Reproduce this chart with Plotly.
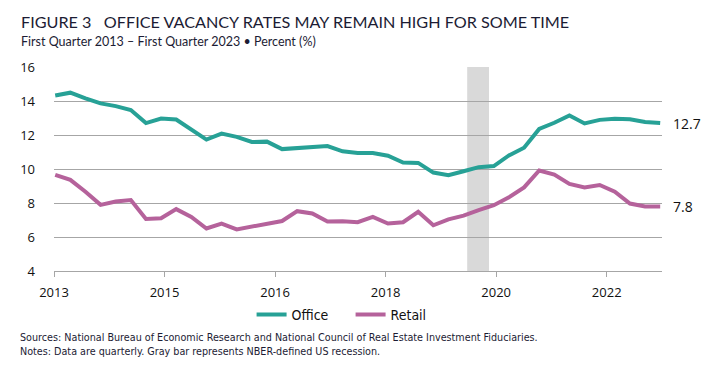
import plotly.graph_objects as go

# ---- data (quarterly, Q1 2013 .. Q1 2023) ----
start_year = 2013
office = [14.32, 14.49, 14.16, 13.86, 13.70, 13.47, 12.70, 12.97, 12.91, 12.34,
          11.73, 12.08, 11.89, 11.59, 11.61, 11.17, 11.23, 11.33, 11.35, 11.04,
          10.94, 10.94, 10.78, 10.38, 10.36, 9.79, 9.63, 9.87, 10.11, 10.17,
          10.80, 11.25, 12.36, 12.72, 13.15, 12.68, 12.89, 12.95, 12.93, 12.77,
          12.70]
retail = [9.65, 9.36, 8.66, 7.89, 8.09, 8.17, 7.06, 7.10, 7.64, 7.18,
          6.50, 6.79, 6.45, 6.63, 6.79, 6.94, 7.52, 7.38, 6.91, 6.93,
          6.87, 7.18, 6.79, 6.87, 7.48, 6.69, 7.04, 7.26, 7.58, 7.87,
          8.33, 8.92, 9.91, 9.67, 9.12, 8.92, 9.06, 8.66, 7.97, 7.79,
          7.79]
recession = [2019.81, 2020.17]  # NBER-defined recession (as plotted)
tick_labels = ["2013", "2015", "2016", "2018", "2020", "2022"]
y_ticks = [4, 6, 8, 10, 12, 14, 16]

x = [start_year + 0.25 * i for i in range(len(office))]

OFFICE_C = "#27A196"
RETAIL_C = "#B5629B"
TEXT_C = "#1c1c34"

OFF = 8  # page body margin
W, H = 726 - 2 * OFF, 376 - 2 * OFF
ML, MT = 47 - OFF, 67 - OFF
MR = (726 - OFF) - 662
MB = (376 - OFF) - 271
PW, PH = W - ML - MR, H - MT - MB

x_lo = x[0] - 0.02
x_hi = x[-1] + 0.03
n_int = 5.5
tick_pos = [x_lo + k * (x_hi - x_lo) / n_int for k in range(len(tick_labels))]


def px_x(p):
    return (p - OFF - ML) / PW


def px_y(p):
    return (H + OFF - MB - p) / PH


fig = go.Figure()
fig.add_trace(go.Scatter(x=x, y=office, mode="lines", name="Office",
                         line=dict(color=OFFICE_C, width=4)))
fig.add_trace(go.Scatter(x=x, y=retail, mode="lines", name="Retail",
                         line=dict(color=RETAIL_C, width=4)))

fig.add_shape(type="rect", xref="x", yref="paper", x0=recession[0], x1=recession[1],
              y0=0, y1=1, fillcolor="#D9D9D9", line=dict(width=0), layer="below")

# end labels
for vals in (office, retail):
    fig.add_annotation(x=x[-1], y=vals[-1], text=f"{vals[-1]:.1f}", showarrow=False,
                       xanchor="left", yanchor="middle", xshift=11,
                       font=dict(family="Open Sans", size=14, color="#111"))

fig.add_annotation(xref="paper", yref="paper", x=px_x(12), y=px_y(22),
                   xanchor="left", yanchor="middle", showarrow=False,
                   text="FIGURE 3&nbsp;&nbsp;&nbsp;OFFICE VACANCY RATES MAY REMAIN HIGH FOR SOME TIME",
                   font=dict(family="Lato", size=16.2, color=TEXT_C))
fig.add_annotation(xref="paper", yref="paper", x=px_x(12), y=px_y(41),
                   xanchor="left", yanchor="middle", showarrow=False,
                   text="First Quarter 2013 – First Quarter 2023 • Percent (%)",
                   font=dict(family="Lato", size=12.5, color=TEXT_C))
fig.add_annotation(xref="paper", yref="paper", x=px_x(11), y=px_y(337),
                   xanchor="left", yanchor="middle", showarrow=False,
                   text="Sources: National Bureau of Economic Research and National Council of Real Estate Investment Fiduciaries.",
                   font=dict(family="Liberation Sans Narrow, DejaVu Sans Condensed", size=10.7, color=TEXT_C))
fig.add_annotation(xref="paper", yref="paper", x=px_x(11), y=px_y(351),
                   xanchor="left", yanchor="middle", showarrow=False,
                   text="Notes: Data are quarterly. Gray bar represents NBER-defined US recession.",
                   font=dict(family="Liberation Sans Narrow, DejaVu Sans Condensed", size=10.7, color=TEXT_C))

fig.update_layout(
    width=W, height=H,
    margin=dict(l=ML, r=MR, t=MT, b=MB),
    paper_bgcolor="white", plot_bgcolor="white",
    showlegend=True,
    legend=dict(orientation="h", x=px_x(347), xanchor="center",
                y=px_y(315), yanchor="middle",
                font=dict(family="Liberation Sans Narrow, DejaVu Sans Condensed", size=14, color="#111"),
                itemwidth=30, entrywidth=54, tracegroupgap=0, bgcolor="rgba(0,0,0,0)"),
    xaxis=dict(range=[x_lo, x_hi], tickvals=tick_pos, ticktext=tick_labels,
               showgrid=False, zeroline=False, showline=True, linecolor="#A6A6A6",
               linewidth=1, ticks="outside", ticklen=5, tickcolor="#A6A6A6",
               ticklabelstandoff=4,
               tickfont=dict(family="Open Sans", size=13, color="#111")),
    yaxis=dict(range=[4, 16], tickvals=y_ticks, showgrid=True, gridcolor="#A6A6A6",
               gridwidth=1, zeroline=False, showline=False, ticks="",
               ticklabelstandoff=18,
               tickfont=dict(family="Open Sans", size=13, color="#111")),
)

fig.write_html("out.html")
